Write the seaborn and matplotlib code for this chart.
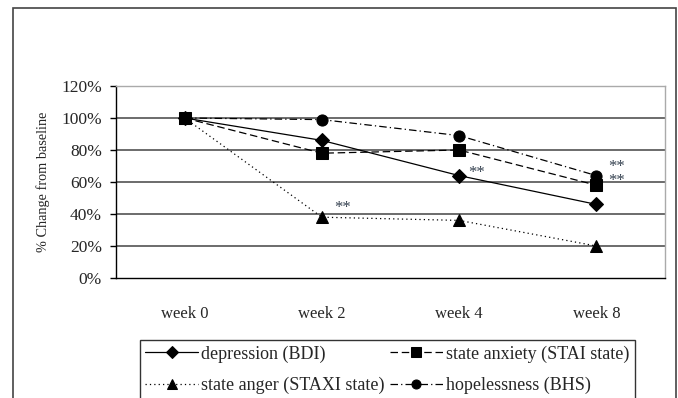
import numpy as np
import pandas as pd
import matplotlib
matplotlib.use('Agg')
import matplotlib.pyplot as plt
import seaborn as sns
from matplotlib.patches import Rectangle

# data
weeks = ['week 0', 'week 2', 'week 4', 'week 8']
depression = [100, 86, 64, 46]
anxiety = [100, 78, 80, 58]
anger = [100, 38, 36, 20]
hopelessness = [100, 99, 89, 64]
series_names = ['depression (BDI)', 'state anxiety (STAI state)',
                'state anger (STAXI state)', 'hopelessness (BHS)']

df = pd.DataFrame({
    'week': np.tile(np.arange(len(weeks)), 4),
    'value': depression + anxiety + anger + hopelessness,
    'series': np.repeat(series_names, len(weeks)),
})

sns.set_theme(style='white')
plt.rcParams['font.family'] = ['Liberation Serif', 'DejaVu Serif']

fig = plt.figure(figsize=(6.78, 3.98), dpi=100)
ax = fig.add_axes([116/678, 1-278/398, (665-116)/678, (278-86)/398])

styles = {
    'depression (BDI)': ('-', 'D', 7),
    'state anxiety (STAI state)': ((0, (6, 3)), 's', 8),
    'state anger (STAXI state)': ((0, (1, 2.5)), '^', 8),
    'hopelessness (BHS)': ((0, (6, 2.5, 1, 2.5)), 'o', 8),
}

# gridlines
for yv in range(20, 121, 20):
    ax.axhline(yv, color='#444444', lw=1.1, zorder=0)

for name in series_names:
    ls, mk, ms = styles[name]
    sub = df[df.series == name]
    sns.lineplot(data=sub, x='week', y='value', ax=ax, color='black',
                 linestyle=ls, marker=mk, markersize=ms, lw=0.9,
                 markeredgecolor='black', label=name, legend=False)

# significance marks (offsets in pixels from the data point)
stars = [(1, 38, 21, 14), (2, 64, 17, 8), (3, 64, 20, 14), (3, 58, 20, 9)]
for xi, yi, dx, dy in stars:
    ax.annotate('**', (xi, yi), xytext=(dx, dy - 9), textcoords='offset pixels',
                ha='center', va='baseline', fontsize=12, color='#34404f')

ax.set_xlim(-0.5, 3.5)
ax.set_ylim(0, 120)
ax.set_xticks(range(len(weeks)))
ax.set_xticklabels(weeks, fontsize=12)
ax.set_xticks(np.arange(-0.5, 4, 1), minor=True)
ax.tick_params(axis='x', which='major', length=0, pad=20)
ax.tick_params(axis='x', which='minor', length=4, width=1, direction='out', color='black')
ax.set_yticks(range(0, 121, 20))
ax.set_yticklabels([f'{v}%' for v in range(0, 121, 20)], fontsize=12.5)
ax.tick_params(axis='y', length=4, width=1, direction='out', color='black', left=True, pad=6)
ax.set_xlabel('')
ax.set_ylabel('% Change from baseline', fontsize=10.3, labelpad=8)

for side in ['left', 'bottom']:
    ax.spines[side].set_color('black')
    ax.spines[side].set_linewidth(1.0)
for side in ['top', 'right']:
    ax.spines[side].set_color('#aaaaaa')
    ax.spines[side].set_linewidth(1.0)

# outer frame
fig.patches.append(Rectangle((13/678, -0.05), (676-13)/678, 1.05-8/398,
                             transform=fig.transFigure, fill=False,
                             edgecolor='#444444', lw=1.2))

handles, labels = ax.get_legend_handles_labels()
order = [0, 2, 1, 3]
leg = fig.legend([handles[i] for i in order], [labels[i] for i in order],
                 loc='upper left', bbox_to_anchor=(140/678, 1-340/398),
                 ncol=2, fontsize=13, frameon=True, fancybox=False,
                 edgecolor='black', handlelength=2.9, handletextpad=0.2,
                 columnspacing=0.3, borderpad=0.3, labelspacing=0.8,
                 borderaxespad=0)
leg.get_frame().set_linewidth(1.0)
for h in leg.legend_handles:
    h.set_markersize(6.5)

fig.savefig('out.png', dpi=100)
